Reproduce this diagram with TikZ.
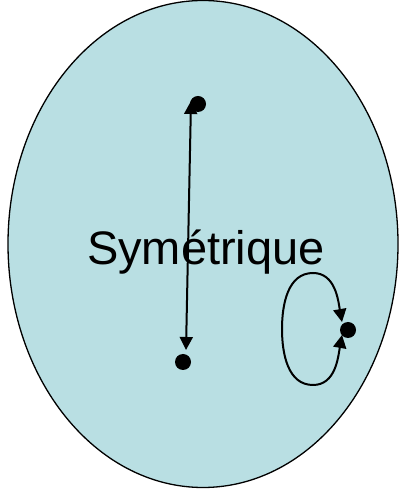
\documentclass[tikz,border=0pt]{standalone}
\usepackage{fontspec}
\setmainfont{Liberation Sans}
\usetikzlibrary{arrows.meta}
\definecolor{setfill}{HTML}{B9DFE3}
\tikzset{
  every picture/.style={line join=round, line cap=round, >={Triangle[length=13pt,width=13pt]}},
  setline/.style={line width=1.3pt},
  relline/.style={line width=2pt},
  elem/.style={circle, fill=black, inner sep=0pt, minimum size=16pt},
}

\begin{document}
\begin{tikzpicture}[x=1pt,y=1pt]
\useasboundingbox (0,0) rectangle (399,489);
\draw[setline,fill=setfill] (203,245) ellipse[x radius=195, y radius=243.5];
\node[font=\fontsize{47}{56}\selectfont,anchor=base] (lbl) at (206,224) {Symétrique};
\node[elem] (a) at (198,385) {};
\node[elem] (b) at (183,127) {};
\node[elem] (c) at (348,159) {};
\coordinate (atip) at (191,388);
\coordinate (btip) at (186,139);
\coordinate (cup) at (342,167);
\coordinate (cdown) at (342,154);
\draw[relline,<->] (btip) -- (atip);
\draw[relline,<->] (cup) to[out=100,in=0] (313,216) to[out=180,in=90] (282,160)
  to[out=-90,in=180] (313,104) to[out=0,in=-100] (cdown);
\end{tikzpicture}
\end{document}
